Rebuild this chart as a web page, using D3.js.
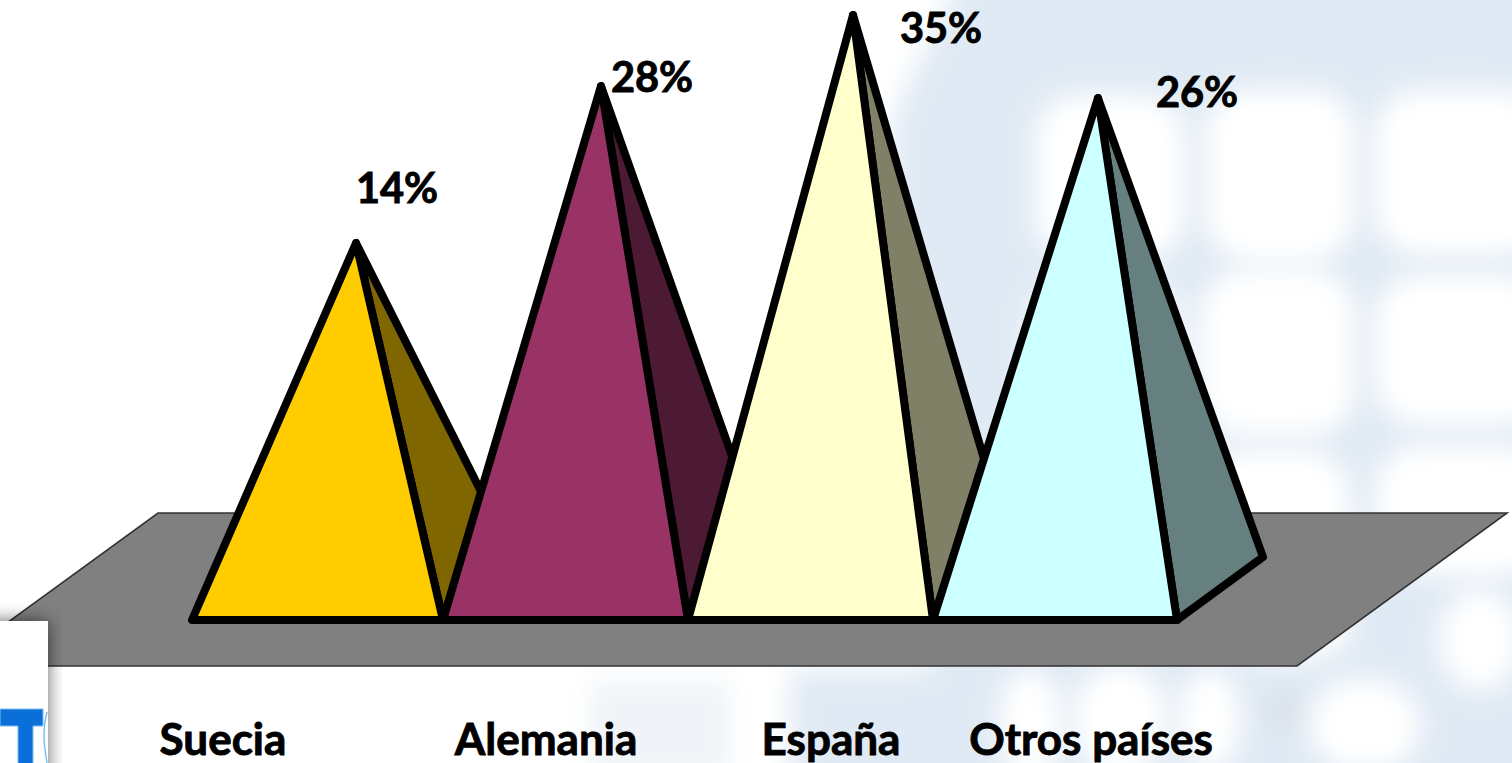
<!DOCTYPE html>
<html><head><meta charset="utf-8">
<style>html,body{margin:0;padding:0;background:#fff;overflow:hidden}svg{display:block}text{font-family:Lato,"Open Sans",sans-serif;font-weight:700;fill:#000;stroke:#000;stroke-width:.9px}</style>
<script src="https://d3js.org/d3.v7.min.js"></script></head><body><svg id="c" width="1512" height="763"></svg>
<script>
const categories = ["Suecia","Alemania","España","Otros países"];
const shares = [14,28,35,26];
const frontColors = ["#FFCC00","#993366","#FFFFCC","#CCFFFF"];
const sideColors = ["#806600","#4D1A33","#808066","#668080"];

const svg = d3.select("#c");
const byCat = r => d3.scaleOrdinal().domain(categories).range(r);
// fitted to the picture: the source chart's value axis is a 3-D projection
const y = d3.scaleLinear().domain([14,26,28,35]).range([243,98,86,15]);
const baseY = 620;
const xLeft = byCat([192,443,688,933]);
const xRight = byCat([443,688,933,1177]);
const xApex = byCat([356,601,853,1098]);
const depth = byCat([75,81,81,86]);
const rise = d3.scaleLinear().domain([0,86]).range([0,63]);
const xLabel = byCat([397,652,941,1197]);
const yLabel = byCat([203,92,43,107]);
const xCat = byCat([223,546,831,1091]);
const color = byCat(frontColors), side = byCat(sideColors);

const defs = svg.append("defs");
const blur = (id,s)=>defs.append("filter").attr("id",id).attr("x","-20%").attr("y","-20%").attr("width","140%").attr("height","140%")
  .append("feGaussianBlur").attr("stdDeviation",s);
blur("bg",13); blur("sh",9);
defs.append("clipPath").attr("id","logo").append("rect").attr("x",0).attr("y",621).attr("width",48).attr("height",142);

// washed-out backdrop
const bg = svg.append("g").attr("filter","url(#bg)");
bg.append("rect").attr("x",-40).attr("y",-40).attr("width",1600).attr("height",850).attr("fill","#fff");
bg.append("path").attr("fill","#e0eaf4")
  .attr("d","M970,-40 L1560,-40 L1560,810 L790,810 L790,670 L930,670 L880,300 L895,110 Z");
bg.append("rect").attr("x",590).attr("y",680).attr("width",140).attr("height",100).attr("fill","#f0f4f8");
bg.append("g").attr("fill","#ffffff").selectAll("rect")
  .data([[1035,95,150,165],[1205,90,150,170],[1375,90,170,165],[1200,270,155,165],[1375,275,170,150],
         [1030,280,150,150],[1030,450,140,135],[1200,450,150,130],[1375,445,170,130],
         [1000,670,60,110],[1075,665,90,110],[1220,590,130,70],[1310,680,110,90],[1440,590,80,100],[1180,670,60,100]])
  .join("rect").attr("x",d=>d[0]).attr("y",d=>d[1]).attr("width",d=>d[2]).attr("height",d=>d[3]).attr("rx",45);
bg.append("circle").attr("cx",1285).attr("cy",712).attr("r",15).attr("fill","#d8dde2");

// floor
svg.append("path").attr("d","M158,513 L1507,513 L1297,666 L-52,666 Z")
  .attr("fill","#808080").attr("stroke","#333").attr("stroke-width",1.6);

// pyramids
const rows = categories.map((c,i)=>({c,v:shares[i]}));
const line = d3.line();
const g = svg.append("g").selectAll("g").data(rows).join("g")
  .attr("stroke","#000").attr("stroke-width",8).attr("stroke-linejoin","round");
g.append("path").attr("fill",d=>side(d.c)).attr("d",d=>line([
  [xApex(d.c),y(d.v)],[xRight(d.c),baseY],[xRight(d.c)+depth(d.c),baseY-rise(depth(d.c))]])+"Z");
g.append("path").attr("fill",d=>color(d.c)).attr("d",d=>line([
  [xLeft(d.c),baseY],[xRight(d.c),baseY],[xApex(d.c),y(d.v)]])+"Z");

// value labels
svg.append("g").selectAll("text").data(rows).join("text")
  .attr("x",d=>xLabel(d.c)).attr("y",d=>yLabel(d.c)).attr("text-anchor","middle")
  .attr("font-size",41.5).text(d=>d.v+"%");
// category labels
svg.append("g").selectAll("text").data(rows).join("text")
  .attr("x",d=>xCat(d.c)).attr("y",755).attr("text-anchor","middle")
  .attr("font-size",44).text(d=>d.c);

// logo card
svg.append("rect").attr("x",-20).attr("y",621).attr("width",68).attr("height",160).attr("fill","#000").attr("opacity",.6).attr("filter","url(#sh)");
svg.append("rect").attr("x",0).attr("y",621).attr("width",48).attr("height",142).attr("fill","#fff");
const lg = svg.append("g").attr("clip-path","url(#logo)");
lg.append("path").attr("fill","#0A6FD8").attr("stroke","#7CC0EE").attr("stroke-width",1)
  .attr("d","M0,709 L43,709 L43,726 L33,726 L33,770 L18,770 L18,726 L0,726 Z");
lg.append("path").attr("fill","none").attr("stroke","#7CC0EE").attr("stroke-width",1.5)
  .attr("d","M47,712 C42,730 44,745 47,763");
</script></body></html>
